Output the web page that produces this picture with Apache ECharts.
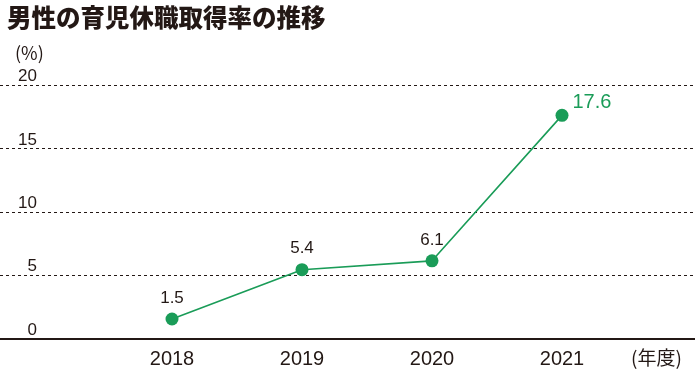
<!DOCTYPE html>
<html><head><meta charset="utf-8">
<script src="https://cdn.jsdelivr.net/npm/echarts@6/dist/echarts.min.js"></script>
<style>html,body{margin:0;padding:0;background:#fff}#c{width:695px;height:369px}</style>
</head><body><div id="c"></div>
<script>
const categories = ['2018', '2019', '2020', '2021'];
const values = [1.5, 5.4, 6.1, 17.6];
const yTicks = [0, 5, 10, 15, 20];
const titleText = '男性の育児休職取得率の推移';
const yUnit = '(%)';
const xUnit = '(年度)';

const green = '#1a9c58';
const dark = '#231815';
const numFont = '"Liberation Sans", Arial, sans-serif';
const cjkFont = '"Noto Sans CJK JP", sans-serif';

const seriesData = values.map((v, i) => i === values.length - 1
  ? { value: v, label: { position: 'right', distance: 4, offset: [0, -13], fontSize: 20, color: green } }
  : v);

const chart = echarts.init(document.getElementById('c'));
chart.setOption({
  animation: false,
  title: [
    { text: titleText, left: 2, top: 0, textStyle: { fontFamily: cjkFont, fontSize: 24.5, fontWeight: 900, color: dark } },
    { text: yUnit, left: 10, top: 39, textStyle: { fontFamily: cjkFont, fontSize: 18, fontWeight: 'normal', color: dark } },
    { text: xUnit, left: 626, top: 343, textStyle: { fontFamily: cjkFont, fontSize: 19, fontWeight: 'normal', color: dark } }
  ],
  grid: [
    { left: 0, right: 0, top: 85, bottom: 30.5 },
    { left: 107, width: 520, top: 85, bottom: 30.5 }
  ],
  xAxis: [
    { gridIndex: 0, type: 'category', data: categories, show: true,
      axisLine: { lineStyle: { color: dark, width: 2 } }, axisTick: { show: false }, axisLabel: { show: false } },
    { gridIndex: 1, type: 'category', data: categories, boundaryGap: true,
      axisLine: { show: false }, axisTick: { show: false },
      axisLabel: { margin: 11, fontSize: 20, fontFamily: numFont, color: dark } }
  ],
  yAxis: [
    { gridIndex: 0, type: 'value', min: yTicks[0], max: yTicks[yTicks.length - 1], interval: 5,
      axisLine: { show: false }, axisTick: { show: false },
      splitLine: { lineStyle: { color: dark, type: [3, 3], width: 1 } },
      axisLabel: { inside: true, align: 'right', margin: 37, verticalAlign: 'bottom', padding: [0, 0, 0, 0],
        fontSize: 17, fontFamily: numFont, color: dark,
        formatter: v => yTicks.includes(v) ? String(v) : '' } },
    { gridIndex: 1, type: 'value', min: yTicks[0], max: yTicks[yTicks.length - 1], show: false, splitLine: { show: false } }
  ],
  series: [{
    type: 'line', xAxisIndex: 1, yAxisIndex: 1, data: seriesData,
    symbol: 'circle', symbolSize: 13,
    lineStyle: { color: green, width: 1.6 },
    itemStyle: { color: green },
    label: { show: true, position: 'top', distance: 6, fontSize: 17, fontFamily: numFont, color: dark }
  }]
});
</script></body></html>
